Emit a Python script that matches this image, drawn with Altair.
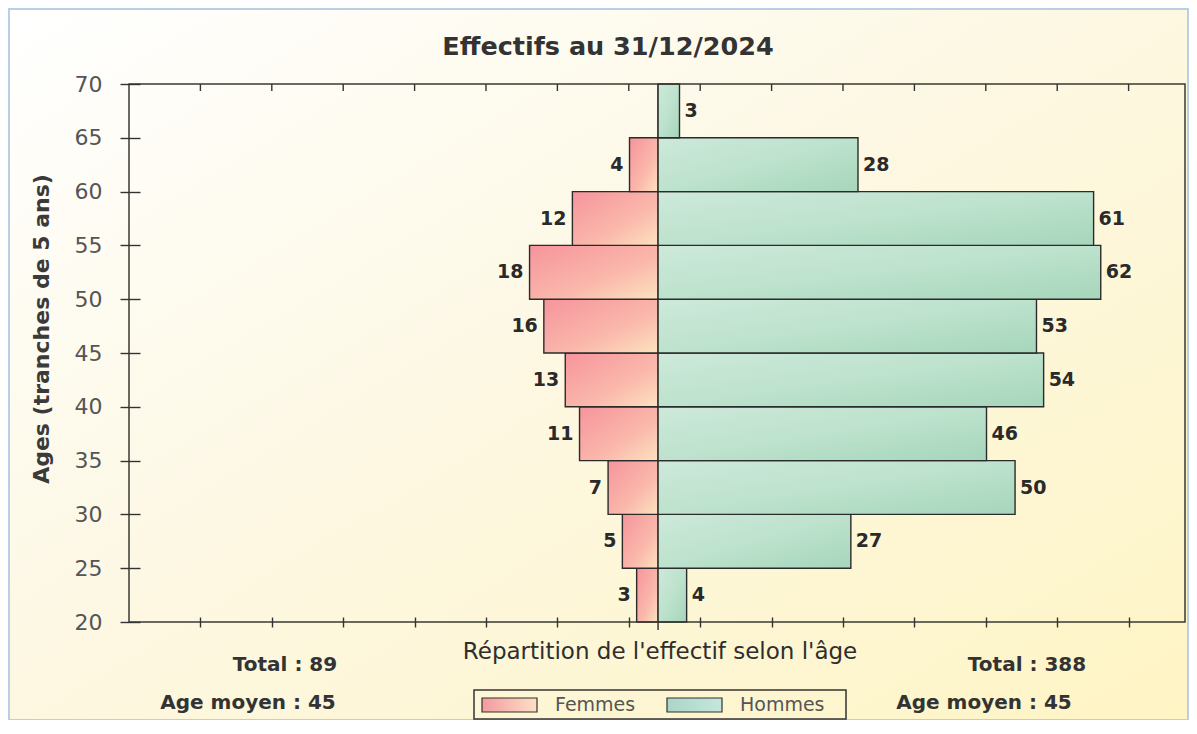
import altair as alt
import pandas as pd

# ---- data ----
age_start = [20, 25, 30, 35, 40, 45, 50, 55, 60, 65]
femmes = [3, 5, 7, 11, 13, 16, 18, 12, 4, None]
hommes = [4, 27, 50, 46, 54, 53, 62, 61, 28, 3]
y_ticks = [20, 25, 30, 35, 40, 45, 50, 55, 60, 65, 70]
x_ticks = [-64.1, -54.1, -44.1, -34.1, -24.1, -14.1, -4.1,
           5.9, 15.9, 25.9, 35.9, 45.9, 55.9, 65.9]
x_domain = [-74.1, 73.8]
y_domain = [20, 70]
title_text = "Effectifs au 31/12/2024"
y_title = "Ages (tranches de 5 ans)"
x_title = "Répartition de l'effectif selon l'âge"
age_moyen_f = 45
age_moyen_h = 45
legend_labels = ["Femmes", "Hommes"]

W, H = 1056, 538
FONT = "DejaVu Sans"

total_f = int(sum(v for v in femmes if v is not None))
total_h = int(sum(hommes))

df_f = pd.DataFrame({"age": age_start, "v": femmes}).dropna()
df_f["v"] = df_f["v"].astype(int)
df_f["neg"] = -df_f["v"]
df_f["zero"] = 0
df_f["age_end"] = df_f["age"] + 5
df_f["mid"] = df_f["age"] + 2.5

df_h = pd.DataFrame({"age": age_start, "v": hommes})
df_h["zero"] = 0
df_h["age_end"] = df_h["age"] + 5
df_h["mid"] = df_h["age"] + 2.5

df_ticks = pd.DataFrame({"t": x_ticks})
one = pd.DataFrame({"zero": [0]})

xscale = alt.Scale(domain=x_domain, nice=False, zero=False)
yscale = alt.Scale(domain=y_domain, nice=False, zero=False)

x_axis = alt.Axis(values=x_ticks, labels=False, title=None, domain=False,
                  grid=False, tickSize=10, offset=-5, tickColor="#333333",
                  tickWidth=1.4, zindex=1)
y_axis = alt.Axis(values=y_ticks, title=None, domain=False, grid=False,
                  tickSize=20, offset=-11, tickColor="#333333", tickWidth=1.4,
                  labelPadding=18, labelFont=FONT, labelFontSize=22,
                  labelColor="#555555", zindex=1)


def X(field):
    return alt.X(field, scale=xscale, axis=x_axis)


def Y(field):
    return alt.Y(field, scale=yscale, axis=y_axis)


def grad(stops, x1=0, y1=0, x2=1, y2=1):
    return alt.LinearGradient(
        gradient="linear",
        stops=[alt.GradientStop(color=c, offset=o) for o, c in stops],
        x1=x1, y1=y1, x2=x2, y2=y2,
    )


g_bg = grad([(0, "#ffffff"), (0.45, "#fdf8e4"), (1, "#fef4c4")])
g_f = grad([(0, "#f6949c"), (0.6, "#fab8ab"), (1, "#fde2bf")], 0, 0, 1, 1)
g_h = grad([(0, "#cde9da"), (0.5, "#bde2cd"), (1, "#a6d6bb")], 0, 0, 1, 1)
g_leg_f = grad([(0, "#f39aa0"), (1, "#fde0c4")], 0, 0, 1, 0)
g_leg_h = grad([(0, "#a9d6c8"), (1, "#c6e6dc")], 0, 0, 1, 0)

# background panel
bg = alt.Chart(one).mark_rect(color=g_bg, stroke="#b9cfe6", strokeWidth=2).encode(
    x=alt.value(-120), x2=alt.value(W + 3), y=alt.value(-75), y2=alt.value(H + 98)
)

bars_f = alt.Chart(df_f).mark_rect(color=g_f, stroke="#2b2b2b", strokeWidth=1.4).encode(
    x=X("neg:Q"), x2="zero:Q", y=Y("age:Q"), y2="age_end:Q",
)

bars_h = alt.Chart(df_h).mark_rect(color=g_h, stroke="#2b2b2b", strokeWidth=1.4).encode(
    x=X("zero:Q"), x2="v:Q", y=Y("age:Q"), y2="age_end:Q",
)

lab_f = alt.Chart(df_f).mark_text(align="right", baseline="middle", dx=-6,
                                  font=FONT, fontSize=19, fontWeight="bold",
                                  color="#2a2a2a").encode(
    x=X("neg:Q"), y=Y("mid:Q"), text="v:Q",
)

lab_h = alt.Chart(df_h).mark_text(align="left", baseline="middle", dx=5,
                                  font=FONT, fontSize=19, fontWeight="bold",
                                  color="#2a2a2a").encode(
    x=X("v:Q"), y=Y("mid:Q"), text="v:Q",
)

top_ticks = alt.Chart(df_ticks).mark_rule(color="#333333", strokeWidth=1.4).encode(
    x=X("t:Q"), y=alt.value(0), y2=alt.value(7)
)

center_tick = alt.Chart(one).mark_rule(color="#2b2b2b", strokeWidth=1.4).encode(
    x=X("zero:Q"), y=alt.value(0), y2=alt.value(H + 8)
)

frame = alt.Chart(one).mark_rect(fill="#ffffff", fillOpacity=0, stroke="#3a3a30",
                                 strokeWidth=1.5).encode(
    x=alt.value(0), x2=alt.value(W), y=alt.value(0), y2=alt.value(H)
)


def txt(s, x, y, size, weight="normal", color="#333333", align="center", angle=0):
    d = pd.DataFrame({"s": [s]})
    kw = dict(align=align, baseline="middle", font=FONT, fontSize=size,
              fontWeight=weight, color=color)
    if angle:
        kw["angle"] = angle
    return alt.Chart(d).mark_text(**kw).encode(
        x=alt.value(x), y=alt.value(y), text="s:N"
    )


t_title = txt(title_text, 479, -37, 25.5, "bold", "#333333")
t_ytitle = txt(y_title, -87, 245, 22, "bold", "#3a3a3a", angle=270)
t_xtitle = txt(x_title, 531, 568, 23, "normal", "#2e2e2e")
t_tot_f = txt(f"Total : {total_f}", 156, 581, 20, "bold", "#333333")
t_age_f = txt(f"Age moyen : {age_moyen_f}", 119, 619, 20, "bold", "#333333")
t_tot_h = txt(f"Total : {total_h}", 898, 581, 20, "bold", "#333333")
t_age_h = txt(f"Age moyen : {age_moyen_h}", 855, 619, 20, "bold", "#333333")

leg_box = alt.Chart(one).mark_rect(fill="#ffffff", fillOpacity=0, stroke="#333333",
                                   strokeWidth=1.5).encode(
    x=alt.value(345), x2=alt.value(717), y=alt.value(606), y2=alt.value(635)
)
leg_sw_f = alt.Chart(one).mark_rect(color=g_leg_f, stroke="#333333", strokeWidth=1.2).encode(
    x=alt.value(353), x2=alt.value(408), y=alt.value(614), y2=alt.value(628)
)
leg_sw_h = alt.Chart(one).mark_rect(color=g_leg_h, stroke="#333333", strokeWidth=1.2).encode(
    x=alt.value(538), x2=alt.value(593), y=alt.value(614), y2=alt.value(628)
)
leg_t_f = txt(legend_labels[0], 426, 621, 19, "normal", "#555555", align="left")
leg_t_h = txt(legend_labels[1], 611, 621, 19, "normal", "#555555", align="left")

chart = alt.layer(
    bg, center_tick, bars_f, bars_h, lab_f, lab_h, top_ticks, frame,
    t_title, t_ytitle, t_xtitle, t_tot_f, t_age_f, t_tot_h, t_age_h,
    leg_box, leg_sw_f, leg_sw_h, leg_t_f, leg_t_h,
).properties(
    width=W, height=H,
    padding={"left": 121, "top": 76, "right": 4, "bottom": 98},
    autosize=alt.AutoSizeParams(type="none"),
).configure_view(stroke=None).configure(background="#ffffff")

chart.save("out.html", embed_options={"renderer": "svg", "actions": False})
